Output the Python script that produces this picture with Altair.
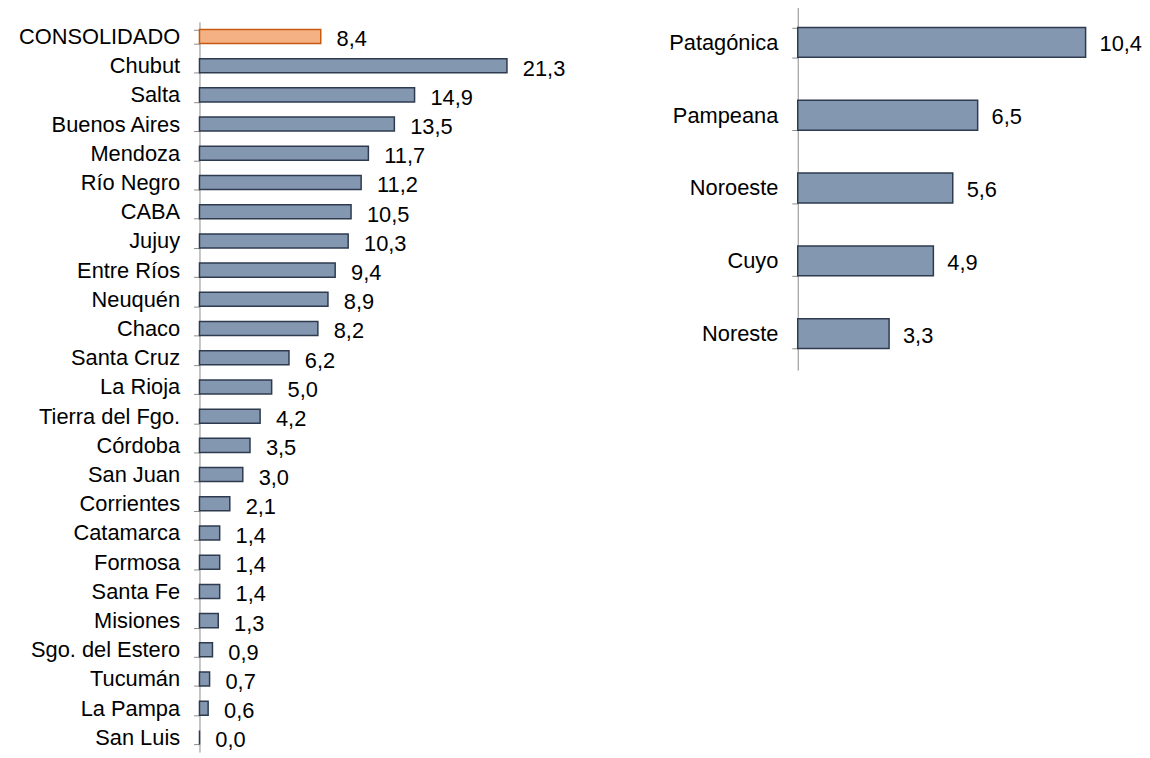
import altair as alt
import pandas as pd

prov_names = ["CONSOLIDADO", "Chubut", "Salta", "Buenos Aires", "Mendoza", "Río Negro",
              "CABA", "Jujuy", "Entre Ríos", "Neuquén", "Chaco", "Santa Cruz", "La Rioja",
              "Tierra del Fgo.", "Córdoba", "San Juan", "Corrientes", "Catamarca", "Formosa",
              "Santa Fe", "Misiones", "Sgo. del Estero", "Tucumán", "La Pampa", "San Luis"]
prov_values = [8.4, 21.3, 14.9, 13.5, 11.7, 11.2, 10.5, 10.3, 9.4, 8.9, 8.2, 6.2, 5.0,
               4.2, 3.5, 3.0, 2.1, 1.4, 1.4, 1.4, 1.3, 0.9, 0.7, 0.6, 0.0]
region_names = ["Patagónica", "Pampeana", "Noroeste", "Cuyo", "Noreste"]
region_values = [10.4, 6.5, 5.6, 4.9, 3.3]
highlight = "CONSOLIDADO"

FONT = "Liberation Sans"
BLUE_FILL = "#8497B0"
BLUE_STROKE = "#2E3B4E"
ORANGE_FILL = "#F4B183"
ORANGE_STROKE = "#C55A11"

label_expr = "replace(format(datum.value, '.1f'), '.', ',')"

left_df = pd.DataFrame({"name": prov_names, "value": prov_values})
right_df = pd.DataFrame({"name": region_names, "value": region_values})


def panel(df, order, xmax, width, height, yrange, pad_inner, dx, dy):
    base = alt.Chart(df).transform_calculate(label=label_expr)
    y = alt.Y("name:N", sort=order,
              scale=alt.Scale(paddingInner=pad_inner, paddingOuter=pad_inner / 2,
                              range=yrange),
              axis=alt.Axis(title=None, tickBand="extent", ticks=True, tickSize=6,
                            tickWidth=1, labelPadding=14, domainWidth=1,
                            domainColor="#8C8C8C", tickColor="#8C8C8C",
                            labelColor="#000000", labelFont=FONT, labelFontSize=22))
    x = alt.X("value:Q", scale=alt.Scale(domain=[0, xmax], nice=False, zero=True), axis=None)
    is_hl = alt.datum.name == highlight
    bars = base.mark_bar(strokeWidth=1.5).encode(
        x=x, y=y,
        fill=alt.condition(is_hl, alt.value(ORANGE_FILL), alt.value(BLUE_FILL)),
        stroke=alt.condition(is_hl, alt.value(ORANGE_STROKE), alt.value(BLUE_STROKE)),
    )
    text = base.mark_text(align="left", baseline="middle", dx=dx, dy=dy,
                          font=FONT, fontSize=22, color="#000000").encode(
        x=x, y=alt.Y("name:N", sort=order), text="label:N")
    return alt.layer(bars, text).properties(width=width, height=height)


left = panel(left_df, prov_names, 380 / 14.55, 380, 752, [16, 752], 0.52, 16, 3)
right = panel(right_df, region_names, 335 / 27.9, 335, 367, [0, 367], 0.59, 14, 2)

chart = alt.hconcat(left, right, spacing=92).properties(
    padding={"left": 10, "top": -16, "right": 0, "bottom": 0}
).configure_view(stroke=None)

chart.save("out.html", embed_options={"renderer": "svg", "actions": False})
